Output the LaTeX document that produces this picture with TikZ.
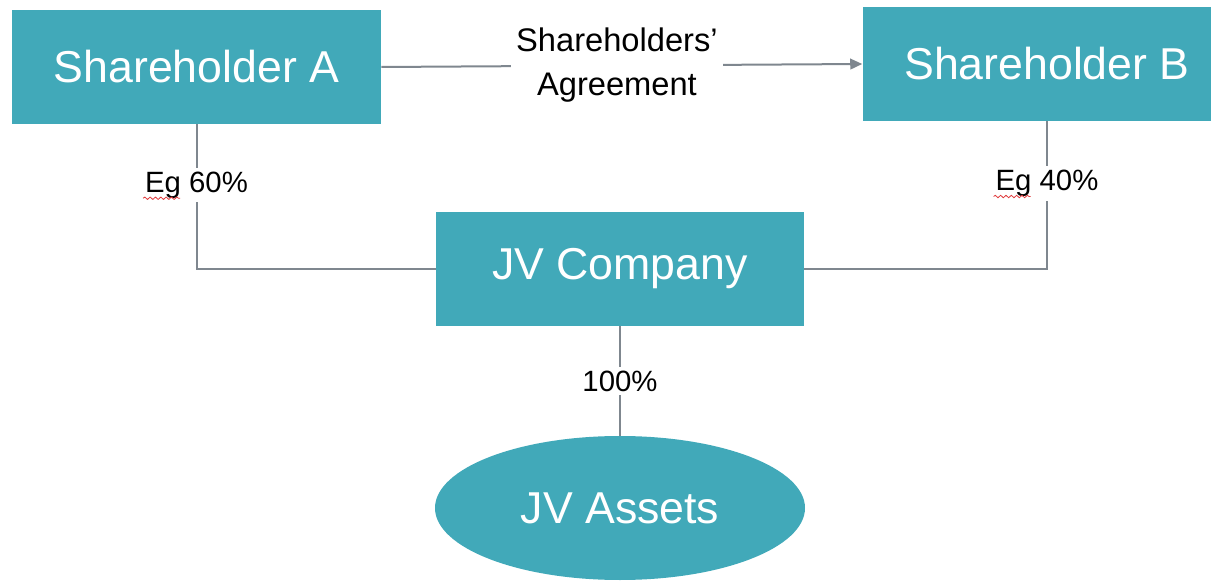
\documentclass[tikz,border=0pt]{standalone}
\usepackage{fontspec}
\setmainfont{Liberation Sans}
\usetikzlibrary{arrows.meta,shapes.geometric,decorations.pathmorphing,calc}
\definecolor{teal}{HTML}{41A9B9}
\definecolor{linkgray}{HTML}{7F878F}
\definecolor{spellred}{HTML}{E0393B}
\begin{document}
\begin{tikzpicture}[x=0.75pt,y=-0.75pt,
  entity/.style={rectangle,fill=teal,text=white,font=\fontsize{33.5}{40}\selectfont,
    minimum width=369*0.75pt,minimum height=114*0.75pt,inner sep=0pt},
  asset/.style={ellipse,fill=teal,text=white,font=\fontsize{33.5}{40}\selectfont,
    minimum width=370*0.75pt,minimum height=144*0.75pt,inner sep=0pt},
  link/.style={draw=linkgray,line width=1.5pt},
  share/.style={fill=white,text=black,font=\fontsize{22}{26}\selectfont,inner sep=3pt},
  agree/.style={fill=white,text=black,font=\fontsize{24.5}{33}\selectfont,align=center,inner sep=4pt},
  squiggle/.style={draw=spellred,line width=0.6pt,decorate,
    decoration={snake,amplitude=0.9pt,segment length=4pt}}]
\useasboundingbox (0,0) rectangle (1211,581);

\node[entity] (A) at (196.5,67) {Shareholder A};
\node[entity] (B) at (1047,64) {Shareholder B};
\node[entity,minimum width=368*0.75pt] (J) at (620,269) {JV Company};
\node[asset] (V) at (620,508) {JV Assets};

% agreement between the shareholders
\draw[link,-{Triangle[length=9pt,width=8pt]}] (A.east) -- (B.west)
  node[agree,pos=0.49] (agr) {Shareholders’\\Agreement};

% shareholdings in the JV company
\draw[link] (A.south) |- (J.west) node[share,pos=0.21] (pa) {Eg 60\%};
\draw[link] (B.south) |- (J.east) node[share,pos=0.21] (pb) {Eg 40\%};
\draw[link] (J.south) -- (V.north) node[share,midway] (pc) {100\%};

% spell-check underline beneath "Eg"
\draw[squiggle] ($(pa.base west)+(3,6)$) -- ++(37,0);
\draw[squiggle] ($(pb.base west)+(3,6)$) -- ++(37,0);
\end{tikzpicture}
\end{document}
